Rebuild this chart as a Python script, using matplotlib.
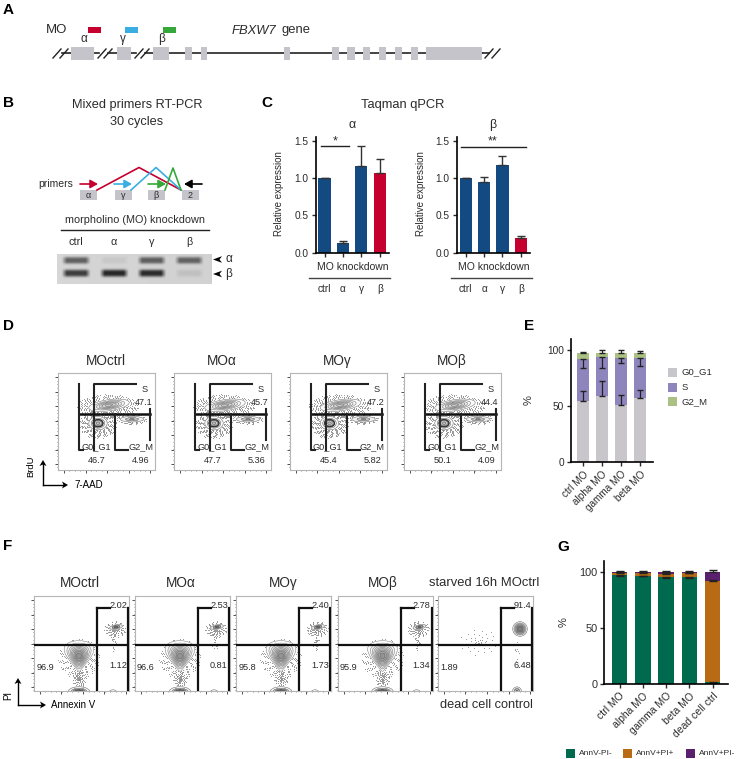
import numpy as np
import matplotlib
matplotlib.use('Agg')
import matplotlib.pyplot as plt
from matplotlib.patches import Rectangle

plt.rcParams['font.family'] = ['Liberation Sans', 'DejaVu Sans']
plt.rcParams['axes.linewidth'] = 1.2

W, H = 737, 759

# panel C
c_labels = ['ctrl', 'α', 'γ', 'β']
c_alpha = [1.0, 0.13, 1.16, 1.07]
c_alpha_err = [0.0, 0.02, 0.27, 0.19]
c_beta = [1.0, 0.95, 1.17, 0.20]
c_beta_err = [0.0, 0.06, 0.12, 0.03]

# panel E, stacked percentages
e_labels = ['ctrl MO', 'alpha MO', 'gamma MO', 'beta MO']
e_g0 = [55.0, 59.5, 51.5, 57.5]
e_s = [37.5, 34.5, 42.0, 35.5]
e_g2 = [5.0, 4.0, 4.5, 4.5]
e_g0_err = [8.4, 12.8, 8.5, 6.8]
e_s_err = [8.0, 10.0, 4.5, 7.0]
e_g2_err = [1.3, 2.0, 2.0, 1.9]

# panel G
g_labels = ['ctrl MO', 'alpha MO', 'gamma MO', 'beta MO', 'dead cell ctrl']
g_neg = [97.0, 96.5, 95.5, 95.5, 1.9]
g_pos = [2.0, 2.5, 2.6, 3.0, 90.0]
g_late = [1.0, 1.0, 1.9, 1.5, 8.1]
g_neg_err = [0.8, 0.7, 0.8, 0.8, 0.8]
g_late_err = [0.5, 0.5, 0.5, 0.5, 1.4]

# flow plots
d_titles = ['MOctrl', 'MOα', 'MOγ', 'MOβ']
d_s = ['47.1', '45.7', '47.2', '44.4']
d_g1 = ['46.7', '47.7', '45.4', '50.1']
d_g2 = ['4.96', '5.36', '5.82', '4.09']
d_left = [58, 174, 289.5, 404]
f_titles = ['MOctrl', 'MOα', 'MOγ', 'MOβ', 'starved 16h MOctrl']
f_ur = ['2.02', '2.53', '2.40', '2.78', '91.4']
f_lr = ['1.12', '0.81', '1.73', '1.34', '6.48']
f_ll = ['96.9', '96.6', '95.8', '95.9', '1.89']
f_left = [34, 135, 236, 337.5, 438]

# gene model, pixel extents of the exons
exons = [(71, 94), (117, 131), (153, 169), (185, 192), (201, 207), (284, 290),
         (332, 339), (347, 355), (363, 370), (379, 386), (395, 402), (411, 418), (426, 482)]
gel_lanes = [76, 114, 151.5, 189]
gel_alpha = [0.46, 0.05, 0.46, 0.44]
gel_beta = [0.60, 0.68, 0.66, 0.07]

GREY = '#c5c4ca'
NAVY = '#134a82'
RED = '#c5002e'
TXT = '#2b2b2b'


def px_axes(fig, left, top, right, bottom):
    return fig.add_axes([left / W, 1 - bottom / H, (right - left) / W, (bottom - top) / H])


def bar_axes(fig, left, right, y0, ytop, first, step, ymax_px, ymax_val):
    ax = px_axes(fig, left, ytop, right, y0)
    ax.set_xlim((left - first) / step, (right - first) / step)
    ax.set_ylim(0, ymax_val * (y0 - ytop) / (y0 - ymax_px))
    for s in ['top', 'right']:
        ax.spines[s].set_visible(False)
    ax.patch.set_alpha(0)
    ax.tick_params(length=3, width=1, labelsize=7.3, colors=TXT, pad=2)
    return ax


fig = plt.figure(figsize=(W / 100, H / 100), dpi=100)
ov = fig.add_axes([0, 0, 1, 1], zorder=5)
ov.set_xlim(0, W)
ov.set_ylim(H, 0)
ov.axis('off')
ov.patch.set_alpha(0)


def t(x, y, s, size=7, ha='center', **kw):
    kw.setdefault('color', TXT)
    ov.text(x, y, s, fontsize=size, ha=ha, va='center', **kw)


for lab, x, y in [('A', 3, 10), ('B', 3, 103), ('C', 261, 103), ('D', 3, 326),
                  ('E', 524, 326), ('F', 3, 546), ('G', 557, 547)]:
    t(x, y, lab, size=11, ha='left', fontweight='bold', color='black')

# A gene
t(57, 30, 'MO', size=9.5)
for x0, col in [(88, RED), (125, '#3aaee2'), (163, '#35a83a')]:
    ov.add_patch(Rectangle((x0, 27), 13, 6, color=col, lw=0))
for x0, s in [(84, 'α'), (123, 'γ'), (162, 'β')]:
    t(x0, 39, s, size=8.5)
t(232, 30.5, 'FBXW7', size=9.4, ha='left', style='italic')
t(282, 30.5, 'gene', size=9.4, ha='left')
for a, b in [(62, 71), (108, 117), (145, 153), (169, 482), (482, 489), (94, 99), (131, 136)]:
    ov.plot([a, b], [53, 53], color='#222222', lw=1.2, zorder=1)
for x0 in [53, 60, 98, 104, 135, 141, 485, 492]:
    ov.plot([x0, x0 + 8], [58, 49], color='#222222', lw=1, zorder=2)
for a, b in exons:
    ov.add_patch(Rectangle((a, 47), b - a, 13, color=GREY, lw=0, zorder=3))

# B schematic
t(137, 105, 'Mixed primers RT-PCR', size=9.2)
t(137, 122, '30 cycles', size=9.2)
t(56, 184, 'primers', size=7.5)
for x0, s in [(80, 'α'), (115, 'γ'), (148, 'β'), (182, '2')]:
    ov.add_patch(Rectangle((x0, 190), 17, 10, color=GREY, lw=0))
    t(x0 + 8.5, 195.5, s, size=6.5)
for xs, ys, col in [([97, 139, 181], [190, 167.5, 190], RED),
                    ([131, 156, 181], [190, 167.5, 190], '#3aaee2'),
                    ([165, 173, 181], [190, 168, 190], '#35a83a')]:
    ov.plot(xs, ys, color=col, lw=1.2)
for x0, x1, col in [(80, 98, RED), (114, 132, '#3aaee2'), (148, 166, '#35a83a'), (202, 184, 'black')]:
    ov.annotate('', xy=(x1, 184), xytext=(x0, 184),
                arrowprops=dict(arrowstyle='-|>,head_width=0.25,head_length=0.45', color=col, lw=1.2,
                                shrinkA=0, shrinkB=0))
t(135, 220, 'morpholino (MO) knockdown', size=7.8)
ov.plot([61, 209], [230, 230], color='#222222', lw=1)
for x0, s in zip(gel_lanes, c_labels):
    t(x0, 242, s, size=7.8)

# gel
gx = np.arange(57, 212, 0.5)
gy = np.arange(253.5, 283.5, 0.5)
X, Y = np.meshgrid(gx, gy)
gel = 0.84 - 0.02 * (X - 57) / 155 + 0 * Y
for lane, a, b in zip(gel_lanes, gel_alpha, gel_beta):
    edge = np.clip((14.5 - np.abs(X - lane)) / 5, 0, 1)
    gel -= a * edge * np.exp(-np.abs((Y - 259.6) / 3.4) ** 3)
    gel -= b * edge * np.exp(-np.abs((Y - 272.4) / 3.6) ** 3)
ax_gel = px_axes(fig, 57, 253.5, 212, 283.5)
ax_gel.imshow(np.clip(gel, 0, 1), cmap='gray', vmin=0, vmax=1, aspect='auto', interpolation='bilinear')
ax_gel.axis('off')
for y0, s in [(259.5, 'α'), (274, 'β')]:
    ov.fill([213, 222, 219.5, 222], [y0, y0 - 3.3, y0, y0 + 3.3], color='black', lw=0)
    t(229, y0, s, size=8.5)

# C
t(403, 105, 'Taqman qPCR', size=9.3)
t(352, 125, 'α', size=9)
t(493, 125, 'β', size=9)
for vals, errs, left, right, first, ylx in [(c_alpha, c_alpha_err, 315.7, 388.5, 324.5, 279),
                                            (c_beta, c_beta_err, 456.7, 529.5, 465.7, 420.7)]:
    ax = bar_axes(fig, left, right, 252.7, 136.5, first, 18.4, 140.7, 1.5)
    cols = [NAVY, NAVY, NAVY, RED]
    ax.bar(range(4), vals, width=0.66, color=cols)
    ax.errorbar(range(4), vals, yerr=[[0] * 4, errs], fmt='none', ecolor='#333333', elinewidth=1, capsize=3,
                capthick=1)
    ax.set_yticks([0, 0.5, 1.0, 1.5], ['0.0', '0.5', '1.0', '1.5'])
    ax.set_xticks(range(4), [''] * 4)
    t(ylx, 194, 'Relative expression', size=7, rotation=90)
    t(first + 28, 267, 'MO knockdown', size=7.5)
    ov.plot([first - 15, first + 66], [277.7, 277.7], color='#444444', lw=1)
    for i, s in enumerate(c_labels):
        t(first + 18.4 * i, 288.5, s, size=7.3)
ov.plot([320.7, 349.3], [146, 146], color='#222222', lw=1)
t(334.7, 141, '*', size=9)
ov.plot([461, 525.7], [147, 147], color='#222222', lw=1)
t(493, 141, '**', size=9)


def blob(ax, cx, cy, rx, ry, angle=0, skew=0.0, n=8, shade=0.55, line='#555555', ring=None):
    xs = np.linspace(cx - 2.6 * rx, cx + 2.6 * rx, 120)
    ys = np.linspace(cy - 2.6 * ry, cy + 2.6 * ry, 120)
    Xg, Yg = np.meshgrid(xs, ys)
    c, s = np.cos(np.radians(angle)), np.sin(np.radians(angle))
    u = (Xg - cx) * c + (Yg - cy) * s
    v = -(Xg - cx) * s + (Yg - cy) * c
    u = u / (1 - skew * v / ry).clip(0.3)
    dens = np.exp(-(u / rx) ** 2 - (v / ry) ** 2)
    lev = np.linspace(0.12, 0.93, n)
    ax.contourf(Xg, Yg, dens, levels=list(lev) + [1.01], cmap='Greys', vmin=0.1, vmax=1 / shade, zorder=2)
    ax.contour(Xg, Yg, dens, levels=lev, colors=line, linewidths=0.3, zorder=3)
    if ring:
        ax.contour(Xg, Yg, dens, levels=[ring], colors='#333333', linewidths=1, zorder=3)


def dots(ax, cx, cy, dx, dy, n, col='#8a8a8a', size=0.4, power=0.75, start=0):
    # R2 sequence, a fixed spread of events without random numbers
    idx = np.arange(1 + start, n + 1 + start)
    ang = 2 * np.pi * (idx * 0.7548777 % 1)
    rad = (idx * 0.5698403 % 1) ** power
    ax.scatter(cx + dx * rad * np.cos(ang), cy + dy * rad * np.sin(ang), s=size, color=col, lw=0, zorder=1)


def flow_axes(left, top, width, height):
    ax = px_axes(fig, left, top, left + width, top + height)
    ax.set_xlim(0, width)
    ax.set_ylim(height, 0)
    for sp in ax.spines.values():
        sp.set_color('#b5b5b5')
        sp.set_linewidth(0.8)
    ax.set_xticks(np.arange(6, width, 21.5))
    ax.set_xticks(np.arange(6, width, 5.4), minor=True)
    ax.set_yticks(np.arange(4, height, 14.5))
    ax.set_yticks(np.arange(4, height, 3.6), minor=True)
    ax.tick_params(which='major', length=2, width=0.6, labelleft=False, labelbottom=False, color='#333333')
    ax.tick_params(which='minor', length=1, width=0.4, color='#333333')
    return ax


# D
for i, left in enumerate(d_left):
    top = 373.2
    ax = flow_axes(left, top, 97, 96.5)
    dots(ax, 50, 33, 31, 12, 500, start=i * 37)
    dots(ax, 40, 51, 19, 14, 380, start=i * 53)
    dots(ax, 74, 46, 15, 5, 140, start=i * 71)
    blob(ax, 51, 32, 14, 3.8, angle=-8, n=6, shade=0.35)
    blob(ax, 40, 50, 6.3, 4.6, n=5, shade=0.4, line='#444444', ring=0.55)
    blob(ax, 74, 46, 8, 1.9, n=3, shade=0.5)
    ax.plot([36, 36, 78], [77, 11, 11], color='#222222', lw=1.5)
    ax.plot([21, 92], [41, 41], color='#111111', lw=1.8, zorder=4)
    ax.plot([21, 21, 25], [11, 77, 77], color='#222222', lw=1.5, zorder=4)
    ax.plot([57, 57, 70], [41, 77, 77], color='#222222', lw=1.5, zorder=4)
    ax.plot([92, 92], [36, 67], color='#222222', lw=1.5, zorder=4)
    t(left + 87, top + 16, 'S', size=6.6)
    t(left + 86, top + 29, d_s[i], size=6.6)
    t(left + 38, top + 74, 'G0_G1', size=6.6)
    t(left + 83, top + 74, 'G2_M', size=6.6)
    t(left + 39, top + 87, d_g1[i], size=6.6)
    t(left + 83, top + 87, d_g2[i], size=6.6)
    t(left + 48, 361, d_titles[i], size=9.8)

# axis arrows D and F
for cx, cy, up, right, ylab, ylx, yly, ylsz, xlab, xlx in [(43, 485, 460, 68, 'BrdU', 31, 466, 6.8, '7-AAD', 74),
                                                           (18, 705, 678, 46, 'PI', 8, 695, 7, 'Annexin V', 51)]:
    ov.plot([cx, cx], [cy, up + 3], color='black', lw=1)
    ov.plot([cx, right - 3], [cy, cy], color='black', lw=1)
    ov.fill([cx - 3.5, cx, cx + 3.5, cx], [up + 6, up, up + 6, up + 4.5], color='black', lw=0)
    ov.fill([right - 6, right, right - 6, right - 4.5], [cy - 3.5, cy, cy + 3.5, cy], color='black', lw=0)
    t(ylx, yly, ylab, size=ylsz, rotation=90, color='black')
    t(xlx, cy, xlab, size=7, ha='left', color='black')

# F
for i, left in enumerate(f_left):
    top = 596
    ax = flow_axes(left, top, 95, 95)
    if i < 4:
        dots(ax, 45, 62, 21, 20, 320, start=i * 29)
        dots(ax, 45, 83, 7, 9, 90, start=i * 41)
        dots(ax, 81, 33, 11, 8, 130, start=i * 59)
        dots(ax, 80, 45, 3, 10, 22, start=i * 17)
        blob(ax, 45, 60, 8.6, 10.5, skew=0.5, n=9, shade=0.55, line='#666666')
        blob(ax, 45, 96, 7.5, 3.6, n=5, shade=0.85)
        blob(ax, 82, 31, 4.5, 1.5, angle=-10, n=3, shade=0.7)
        blob(ax, 79, 96, 2.5, 1.5, n=1, shade=0.1)
    else:
        dots(ax, 41, 46, 20, 13, 45, power=1)
        blob(ax, 82, 33, 5, 5, n=8, shade=0.6)
        blob(ax, 79, 95, 3, 2.8, n=3, shade=0.6)
        dots(ax, 79, 55, 3, 10, 10)
    ax.plot([0, 95], [49, 49], color='#111111', lw=1.6, zorder=4)
    ax.plot([63, 63], [95, 12], color='#111111', lw=1.6, zorder=4)
    ax.plot([63, 76], [12, 12], color='#111111', lw=1.6, zorder=4)
    ax.plot([94.2, 94.2], [12, 95], color='#111111', lw=1.6, zorder=4)
    t(left + 84, top + 9, f_ur[i], size=6.6)
    t(left + 84, top + 70, f_lr[i], size=6.6)
    t(left + 11, top + 71, f_ll[i], size=6.6)
for x0, s in zip([80, 181, 283, 383, 484], f_titles):
    t(x0, 583, s, size=9.8 if len(s) < 8 else 9.4)
t(533, 705, 'dead cell control', size=9.2, ha='right')

# E
ax_e = bar_axes(fig, 570.7, 653, 462.3, 339, 583, 19, 350.3, 100)
xe = np.arange(len(e_labels))
e_g0 = np.array(e_g0)
e_s = np.array(e_s)
e_g2 = np.array(e_g2)
e_cols = ['#c8c6cb', '#8f85bd', '#abc084']
ax_e.bar(xe, e_g0, width=0.68, color=e_cols[0])
ax_e.bar(xe, e_s, width=0.68, bottom=e_g0, color=e_cols[1])
ax_e.bar(xe, e_g2, width=0.68, bottom=e_g0 + e_s, color=e_cols[2])
ax_e.errorbar(xe, e_g0, yerr=[[0] * 4, e_g0_err], fmt='none', ecolor='#222222', elinewidth=0.9, capsize=2)
ax_e.errorbar(xe, e_g0 + e_s, yerr=[e_s_err, [0] * 4], fmt='none', ecolor='#222222', elinewidth=0.9, capsize=2)
ax_e.errorbar(xe, e_g0 + e_s + e_g2, yerr=[[0] * 4, e_g2_err], fmt='none', ecolor='#222222', elinewidth=0.9,
              capsize=2)
ax_e.set_yticks([0, 50, 100])
ax_e.set_xticks(xe, e_labels, rotation=45, ha='right', rotation_mode='anchor', fontsize=7.2)
t(529, 400, '%', size=8, rotation=90)
for y0, s, col in zip([372, 387, 401.6], ['G0_G1', 'S', 'G2_M'], e_cols):
    ov.add_patch(Rectangle((668, y0 - 4.5), 9, 9, color=col, lw=0))
    t(682, y0, s, size=6.8, ha='left')

# G
ax_g = bar_axes(fig, 604.3, 728, 684, 560.5, 619.7, 23.2, 571.7, 100)
xg = np.arange(len(g_labels))
g_neg = np.array(g_neg)
g_pos = np.array(g_pos)
g_late = np.array(g_late)
g_cols = ['#006a4e', '#b86a14', '#5a1f6d']
ax_g.bar(xg, g_neg, width=0.66, color=g_cols[0])
ax_g.bar(xg, g_pos, width=0.66, bottom=g_neg, color=g_cols[1])
ax_g.bar(xg, g_late, width=0.66, bottom=g_neg + g_pos, color=g_cols[2])
ax_g.errorbar(xg, g_neg, yerr=[g_neg_err, [0] * 5], fmt='none', ecolor='#222222', elinewidth=0.9, capsize=3)
ax_g.errorbar(xg, g_neg + g_pos, yerr=[[0] * 5, [0.5] * 5], fmt='none', ecolor='#222222', elinewidth=0.9, capsize=3)
ax_g.errorbar(xg, g_neg + g_pos + g_late, yerr=[[0] * 5, g_late_err], fmt='none', ecolor='#222222', elinewidth=0.9,
              capsize=3)
ax_g.set_yticks([0, 50, 100])
ax_g.tick_params(axis='y', labelsize=7.8)
ax_g.set_xticks(xg, g_labels, rotation=45, ha='right', rotation_mode='anchor', fontsize=7.5)
t(564, 622, '%', size=8, rotation=90)
for x0, s, col in zip([565.7, 622.7, 686], ['AnnV-PI-', 'AnnV+PI+', 'AnnV+PI-'], g_cols):
    ov.add_patch(Rectangle((x0, 749), 9, 9, color=col, lw=0))
    t(x0 + 13.3, 753.5, s, size=6, ha='left')

fig.savefig('out.png', dpi=100)
